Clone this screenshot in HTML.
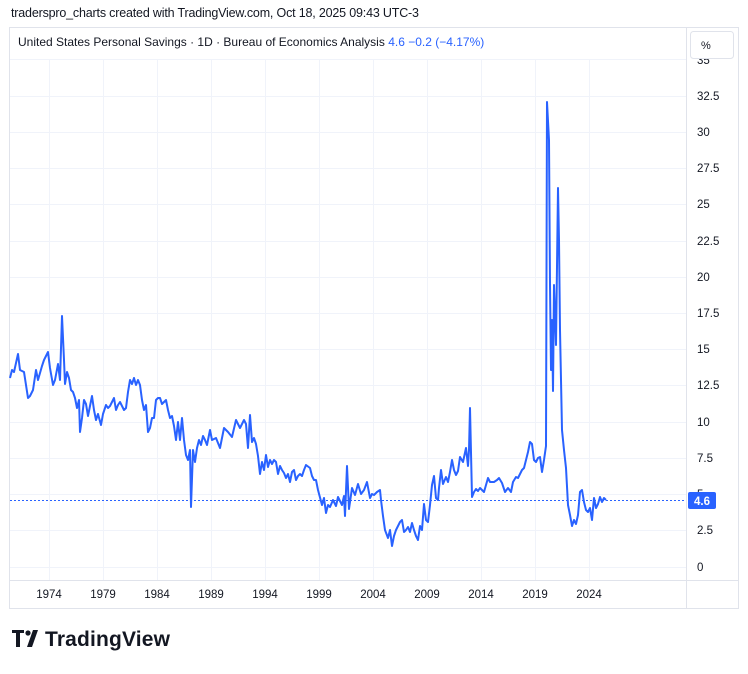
<!DOCTYPE html>
<html><head><meta charset="utf-8"><style>
body{margin:0;background:#fff;width:748px;height:669px;overflow:hidden;font-family:"Liberation Sans",sans-serif}
</style></head><body>
<svg width="748" height="669" xmlns="http://www.w3.org/2000/svg" font-family="Liberation Sans, sans-serif">
<text x="11" y="17" font-size="12.5" fill="#131722" textLength="408">traderspro_charts created with TradingView.com, Oct 18, 2025 09:43 UTC-3</text>
<rect x="9.5" y="27.5" width="729" height="581" fill="#fff" stroke="#e0e3eb"/>
<line x1="686.5" y1="28" x2="686.5" y2="608" stroke="#e0e3eb"/>
<line x1="10" y1="580.5" x2="738" y2="580.5" stroke="#e0e3eb"/>
<g stroke="#f0f3fa" stroke-width="1">
<line x1="10" x2="686" y1="96.5" y2="96.5"/><line x1="10" x2="686" y1="132.5" y2="132.5"/>
<line x1="10" x2="686" y1="168.5" y2="168.5"/><line x1="10" x2="686" y1="204.5" y2="204.5"/>
<line x1="10" x2="686" y1="241.5" y2="241.5"/><line x1="10" x2="686" y1="277.5" y2="277.5"/>
<line x1="10" x2="686" y1="313.5" y2="313.5"/><line x1="10" x2="686" y1="349.5" y2="349.5"/>
<line x1="10" x2="686" y1="385.5" y2="385.5"/><line x1="10" x2="686" y1="422.5" y2="422.5"/>
<line x1="10" x2="686" y1="458.5" y2="458.5"/><line x1="10" x2="686" y1="494.5" y2="494.5"/>
<line x1="10" x2="686" y1="530.5" y2="530.5"/><line x1="10" x2="686" y1="567.5" y2="567.5"/>
<line x1="49.5" x2="49.5" y1="60" y2="580"/><line x1="103.5" x2="103.5" y1="60" y2="580"/>
<line x1="157.5" x2="157.5" y1="60" y2="580"/><line x1="211.5" x2="211.5" y1="60" y2="580"/>
<line x1="265.5" x2="265.5" y1="60" y2="580"/><line x1="319.5" x2="319.5" y1="60" y2="580"/>
<line x1="373.5" x2="373.5" y1="60" y2="580"/><line x1="427.5" x2="427.5" y1="60" y2="580"/>
<line x1="481.5" x2="481.5" y1="60" y2="580"/><line x1="535.5" x2="535.5" y1="60" y2="580"/>
<line x1="589.5" x2="589.5" y1="60" y2="580"/>
</g>
<line x1="10" x2="686" y1="500.5" y2="500.5" stroke="#2962ff" stroke-dasharray="2,2"/>
<polyline fill="none" stroke="#2962ff" stroke-width="2" stroke-linejoin="round" points="10,378 12,370 14,372 18,354 20,370 24,372 28,398 30,396 33,390 36,370 38,380 42,366 44,360 46,356 48,352 50,368 53,385 55,380 58,364 60,380 62,316 64,360 65,384 67,372 69,378 71,390 73,392 75,398 77,408 79,400 80,432 82,418 84,400 86,404 88,416 90,406 92,396 94,410 96,420 98,414 101,425 103,414 106,405 108,408 110,406 112,402 114,398 116,410 118,405 120,402 124,410 126,408 128,392 130,380 132,384 134,378 136,385 138,380 140,385 142,400 144,410 146,405 148,432 150,428 152,418 154,418 156,400 158,398 160,398 162,404 164,402 166,400 168,410 170,418 172,416 174,426 176,440 178,422 180,440 182,418 184,440 186,455 188,460 190,450 191,507 193,450 195,462 197,448 199,440 201,445 203,436 205,440 207,445 210,430 212,440 216,438 220,448 224,428 228,432 232,437 236,420 240,428 244,420 246,424 248,448 250,415 252,442 254,438 256,444 258,456 260,474 262,462 264,470 266,455 268,467 270,460 272,464 274,460 276,462 278,474 280,466 282,470 284,473 286,478 288,474 290,482 292,472 294,470 296,480 298,476 300,474 302,476 304,470 306,465 310,468 312,476 314,480 316,480 318,490 322,505 324,498 326,513 328,505 330,507 333,500 336,506 338,497 342,505 344,496 345,516 347,466 349,509 352,488 355,495 358,484 361,494 364,490 367,482 370,498 372,494 374,495 377,492 380,490 381,500 383,516 385,530 388,538 390,530 392,546 394,536 396,530 398,526 400,522 402,520 404,532 406,530 408,527 410,532 412,523 414,530 416,536 418,540 420,526 422,530 424,504 426,520 428,522 430,505 432,485 434,476 436,498 438,500 439,488 441,470 443,484 446,477 448,482 450,472 452,460 454,470 456,475 458,471 460,457 463,462 466,448 468,466 469,450 470,408 472,497 474,492 476,489 478,491 480,488 484,492 488,478 490,482 494,482 497,480 499,478 502,483 505,492 508,488 511,492 513,482 516,477 518,478 520,474 522,470 524,468 526,460 528,452 530,442 532,444 534,460 536,462 538,458 540,457 542,472 544,460 546,446 547,102 549,140 550,285 551,370 552,320 553,391 554,285 556,345 558,188 559,240 560,330 562,430 564,450 566,468 568,505 570,515 572,526 574,520 576,524 578,515 580,492 582,490 584,502 586,510 588,512 590,508 592,520 594,498 596,508 598,504 600,497 602,502 604,498 606,500"/>
<g font-size="11.5" fill="#131722" text-anchor="start">
<text x="697" y="64">35</text>
<text x="697" y="100">32.5</text><text x="697" y="136">30</text><text x="697" y="172">27.5</text>
<text x="697" y="208">25</text><text x="697" y="245">22.5</text><text x="697" y="281">20</text>
<text x="697" y="317">17.5</text><text x="697" y="353">15</text><text x="697" y="389">12.5</text>
<text x="697" y="426">10</text><text x="697" y="462">7.5</text><text x="697" y="498">5</text>
<text x="697" y="534">2.5</text><text x="697" y="571">0</text>
</g>
<rect x="10" y="28" width="676" height="31" fill="#fff"/>
<rect x="687" y="28" width="51" height="31" fill="#fff"/>
<line x1="10" y1="59.5" x2="686" y2="59.5" stroke="#f0f3fa"/>
<text x="18" y="46" font-size="12" fill="#131722">United States Personal Savings · 1D · Bureau of Economics Analysis <tspan fill="#2962ff">4.6  −0.2 (−4.17%)</tspan></text>
<rect x="690.5" y="31.5" width="43" height="27" rx="3" fill="#fff" stroke="#e0e3eb"/>
<text x="701" y="49" font-size="11" fill="#131722">%</text>
<rect x="688" y="492" width="28" height="17" rx="2" fill="#2962ff"/>
<text x="694" y="505" font-size="11.5" fill="#fff" font-weight="bold">4.6</text>
<g font-size="11.5" fill="#131722" text-anchor="middle">
<text x="49" y="598">1974</text><text x="103" y="598">1979</text><text x="157" y="598">1984</text>
<text x="211" y="598">1989</text><text x="265" y="598">1994</text><text x="319" y="598">1999</text>
<text x="373" y="598">2004</text><text x="427" y="598">2009</text><text x="481" y="598">2014</text>
<text x="535" y="598">2019</text><text x="589" y="598">2024</text>
</g>
<g fill="#131722">
<path d="M12 630h12v3h-4v14h-4v-14h-4z"/>
<circle cx="28" cy="633" r="2.6"/>
<path d="M33 630h5l-6 17h-5z"/>
</g>
<text x="45" y="646" font-size="21" font-weight="bold" fill="#131722" textLength="125">TradingView</text>
</svg>
</body></html>
